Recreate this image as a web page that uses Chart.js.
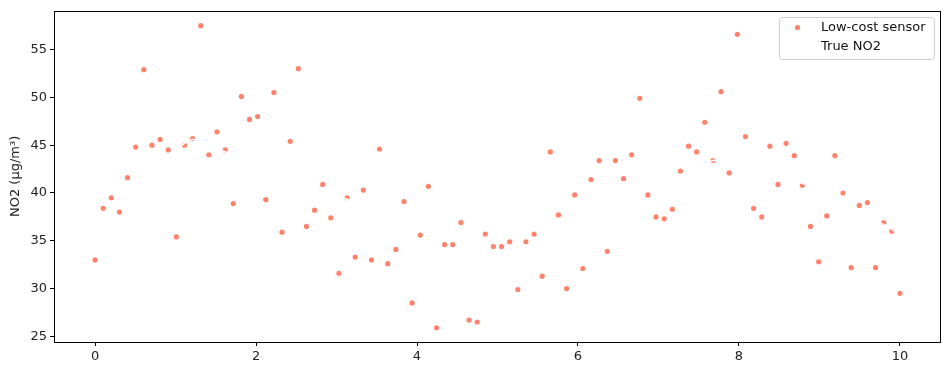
<!DOCTYPE html>
<html>
<head>
<meta charset="utf-8">
<script src="https://cdn.jsdelivr.net/npm/chart.js@4/dist/chart.umd.min.js"></script>
<style>
  html, body { margin: 0; padding: 0; background: #fff; }
  #myChart { display: block; }
</style>
</head>
<body>
<canvas id="myChart" width="950" height="374"></canvas>
<script>
// sensor readings, one every 10/99 along x (0 .. 10)
var sensorValues = [
	33.0, 38.4, 39.5, 38.0, 41.6, 44.8, 52.9, 45.0, 45.6, 44.5,
	35.4, 45.0, 45.7, 57.5, 44.0, 46.4, 44.5, 38.9, 50.1, 47.7,
	48.0, 39.3, 50.5, 35.9, 45.4, 53.0, 36.5, 38.2, 40.9, 37.4,
	31.6, 39.5, 33.3, 40.3, 33.0, 44.6, 32.6, 34.1, 39.1, 28.5,
	35.6, 40.7, 25.9, 34.6, 34.6, 36.9, 26.7, 26.5, 35.7, 34.4,
	34.4, 34.9, 29.9, 34.9, 35.7, 31.3, 44.3, 37.7, 30.0, 39.8,
	32.1, 41.4, 43.4, 33.9, 43.4, 41.5, 44.0, 49.9, 39.8, 37.5,
	37.3, 38.3, 42.3, 44.9, 44.3, 47.4, 43.4, 50.6, 42.1, 56.6,
	45.9, 38.4, 37.5, 44.9, 40.9, 45.2, 43.9, 40.8, 36.5, 32.8,
	37.6, 43.9, 40.0, 32.2, 38.7, 39.0, 32.2, 36.9, 36.0, 29.5
];
var sensorX = sensorValues.map(function(v, i) { return i * 10 / 99; });

// true NO2 (white line, only visible where it crosses the dots)
var trueX = [0, 0.5, 0.9, 1.11, 1.21, 1.4, 1.62, 2.0, 2.5, 3.13, 3.5, 4.0, 4.5, 5.0, 5.5, 6.0, 6.5, 7.0, 7.27, 7.47, 7.68, 8.0, 8.4, 8.79, 9.3, 9.9, 10];
var trueY = [40.0, 43.0, 43.9, 45.2, 45.6, 45.2, 44.3, 43.0, 41.2, 39.35, 38.0, 36.6, 36.2, 36.2, 36.6, 37.6, 39.0, 41.2, 41.8, 42.7, 43.4, 43.6, 42.7, 41.0, 39.0, 36.2, 35.6];

var xTicks = [0, 2, 4, 6, 8, 10];
var yTicks = [25, 30, 35, 40, 45, 50, 55];

var dotColor = 'rgba(255, 99, 71, 0.8)';
var font = { family: 'DejaVu Sans', size: 13 };

function zip(xs, ys) {
	return xs.map(function(x, i) { return { x: x, y: ys[i] }; });
}

// frame round the plot + legend box like matplotlib
var framePlugin = {
	id: 'frame',
	afterDraw: function(chart) {
		var ctx = chart.ctx;
		var a = chart.chartArea;
		ctx.save();
		ctx.strokeStyle = '#000';
		ctx.lineWidth = 1;
		ctx.strokeRect(Math.round(a.left) + 0.5, Math.round(a.top) + 0.5,
			Math.round(a.right - a.left) - 1, Math.round(a.bottom - a.top));

		// legend
		var bx = 779.5, by = 17.5, bw = 155, bh = 42;
		ctx.beginPath();
		ctx.roundRect(bx, by, bw, bh, 3);
		ctx.fillStyle = 'rgba(255,255,255,0.8)';
		ctx.fill();
		ctx.strokeStyle = '#cccccc';
		ctx.stroke();

		ctx.beginPath();
		ctx.arc(797.5, 27.5, 2.6, 0, Math.PI * 2);
		ctx.fillStyle = dotColor;
		ctx.fill();

		ctx.beginPath();
		ctx.moveTo(787, 46.5);
		ctx.lineTo(808, 46.5);
		ctx.strokeStyle = '#ffffff';
		ctx.lineWidth = 1.5;
		ctx.stroke();

		ctx.fillStyle = '#111';
		ctx.font = '13px "DejaVu Sans"';
		ctx.textBaseline = 'middle';
		ctx.textAlign = 'left';
		var names = chart.data.datasets.map(function(d) { return d.label; });
		ctx.fillText(names[0], 821, 27.5);
		ctx.fillText(names[1], 821, 46.5);
		ctx.restore();
	}
};

var ctx = document.getElementById('myChart').getContext('2d');
var myChart = new Chart(ctx, {
	type: 'scatter',
	data: {
		datasets: [{
			label: 'Low-cost sensor',
			data: zip(sensorX, sensorValues),
			backgroundColor: dotColor,
			borderWidth: 0,
			pointRadius: 2.6,
			pointBorderWidth: 0,
			order: 1
		}, {
			label: 'True NO2',
			data: zip(trueX, trueY),
			type: 'line',
			showLine: true,
			borderColor: '#ffffff',
			borderWidth: 1.5,
			pointRadius: 0,
			fill: false,
			tension: 0.3,
			order: 0
		}]
	},
	options: {
		responsive: false,
		animation: false,
		layout: { padding: { top: 9, right: 9, left: 0, bottom: 0 } },
		plugins: {
			legend: { display: false },
			tooltip: { enabled: false }
		},
		scales: {
			x: {
				type: 'linear',
				min: -0.51,
				max: 10.51,
				afterBuildTicks: function(axis) {
					axis.ticks = xTicks.map(function(v) { return { value: v }; });
				},
				afterFit: function(axis) { axis.height = 32; },
				grid: { drawOnChartArea: false, drawTicks: true, tickLength: 4, tickColor: '#000' },
				border: { display: false },
				ticks: { font: font, color: '#222', padding: 3, maxRotation: 0 }
			},
			y: {
				type: 'linear',
				min: 24.41,
				max: 59.06,
				afterBuildTicks: function(axis) {
					axis.ticks = yTicks.map(function(v) { return { value: v }; });
				},
				afterFit: function(axis) { axis.width = 54; },
				grid: { drawOnChartArea: false, drawTicks: true, tickLength: 4, tickColor: '#000' },
				border: { display: false },
				ticks: { font: font, color: '#222', padding: 3 },
				title: {
					display: true,
					text: 'NO2 (µg/m³)',
					font: font,
					color: '#222',
					padding: { top: 8, bottom: 0 }
				}
			}
		}
	},
	plugins: [framePlugin]
});
</script>
</body>
</html>
